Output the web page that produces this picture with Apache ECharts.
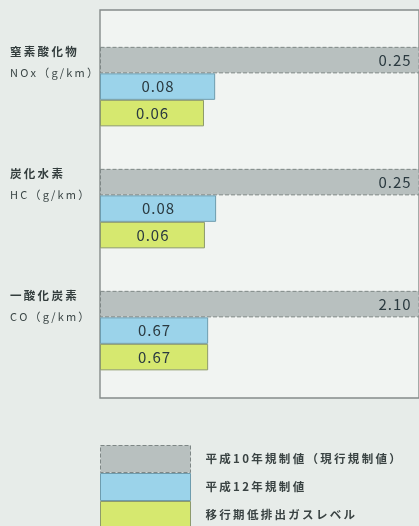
<!DOCTYPE html>
<html><head><meta charset="utf-8">
<script src="https://cdn.jsdelivr.net/npm/echarts@6/dist/echarts.min.js"></script>
<style>html,body{margin:0;padding:0;background:#e7ece9;}#c{width:419px;height:526px;}</style>
</head><body><div id="c"></div>
<script>
// Categories (two-line labels)
const categoryNames = ['窒素酸化物', '炭化水素', '一酸化炭素'];
const categoryUnits = ['NOx（g/km）', 'HC（g/km）', 'CO（g/km）'];
// Series names
const seriesNames = ['平成10年規制値（現行規制値）', '平成12年規制値', '移行期低排出ガスレベル'];
// Printed values (g/km)
const valuesH10 = [0.25, 0.25, 2.10];
const valuesH12 = [0.08, 0.08, 0.67];
const valuesLow = [0.06, 0.06, 0.67];
// Bar lengths as drawn (percent of the visible plot width);
// the 平成10年 bar runs off the right edge of the picture
const lengthH10 = [103, 103, 103];
const lengthH12 = [36.1, 36.4, 33.9];
const lengthLow = [32.6, 32.9, 33.9];

const sp = s => s.split('').join('\u2009');
const hs = s => s.split('').join('\u200A');
const fontJP = '"Noto Sans CJK JP", "Noto Sans", sans-serif';
const chart = echarts.init(document.getElementById('c'));
const printed = [valuesH10, valuesH12, valuesLow];
const lengths = [lengthH10, lengthH12, lengthLow];
const fills = ['#b8c0bf', '#9bd3ea', '#d6e86f'];
const borders = ['#7e8786', '#6e9cae', '#8d9a6c'];
const borderTypes = ['dashed', 'solid', 'solid'];

const series = seriesNames.map((name, i) => ({
  name: name,
  type: 'bar',
  xAxisIndex: 0, yAxisIndex: 0,
  barWidth: 26.5,
  barGap: '0%',
  clip: true,
  data: lengths[i],
  itemStyle: { color: fills[i], borderColor: borders[i], borderWidth: 1, borderType: borderTypes[i] },
  label: {
    show: true,
    position: i === 0 ? 'insideRight' : 'inside',
    distance: 9,
    formatter: p => hs(printed[i][p.dataIndex].toFixed(2)),
    color: '#2b3a40',
    fontSize: 15,
    fontFamily: fontJP
  },
  emphasis: { disabled: true },
  animation: false
}));

chart.setOption({
  backgroundColor: '#e7ece9',
  animation: false,
  grid: [
    { left: 100, right: 0, top: 25.6, height: 366, containLabel: false },
    { left: 100, right: -20, top: 10, height: 388, show: true, backgroundColor: '#f1f4f2', borderColor: '#858b8a', borderWidth: 1.4 }
  ],
  xAxis: [
    { type: 'value', gridIndex: 0, min: 0, max: 100, show: false },
    { type: 'value', gridIndex: 1, show: false }
  ],
  yAxis: [
    {
      type: 'category', gridIndex: 0, inverse: true,
      data: categoryNames,
      axisLine: { show: false }, axisTick: { show: false }, splitLine: { show: false },
      axisLabel: {
        margin: 90, align: 'left', verticalAlign: 'bottom',
        formatter: (v, idx) => '{a|' + sp(categoryNames[idx]) + '}\n{b|' + sp(categoryUnits[idx]) + '}\n{s| }',
        rich: {
          a: { color: '#333d3d', fontSize: 11.5, fontWeight: 'bold', fontFamily: fontJP, lineHeight: 21, align: 'left' },
          b: { color: '#3b4646', fontSize: 11, fontFamily: fontJP, lineHeight: 21, align: 'left' },
          s: { fontSize: 2, lineHeight: 3, align: 'left' }
        }
      }
    },
    { type: 'category', gridIndex: 1, show: false, data: [] }
  ],
  legend: {
    orient: 'vertical', left: 100, top: 445, height: 150,
    padding: 0,
    itemWidth: 90, itemHeight: 27, itemGap: 0,
    icon: 'rect',
    data: seriesNames.map((n, i) => ({
      name: n,
      itemStyle: { color: fills[i], borderColor: borders[i], borderWidth: 1, borderType: borderTypes[i] }
    })),
    selectedMode: false,
    formatter: n => sp(n),
    textStyle: { color: '#3a4343', fontSize: 11.5, fontWeight: 'bold', fontFamily: fontJP, padding: [3, 0, 0, 10] }
  },
  series: series
});
</script></body></html>
